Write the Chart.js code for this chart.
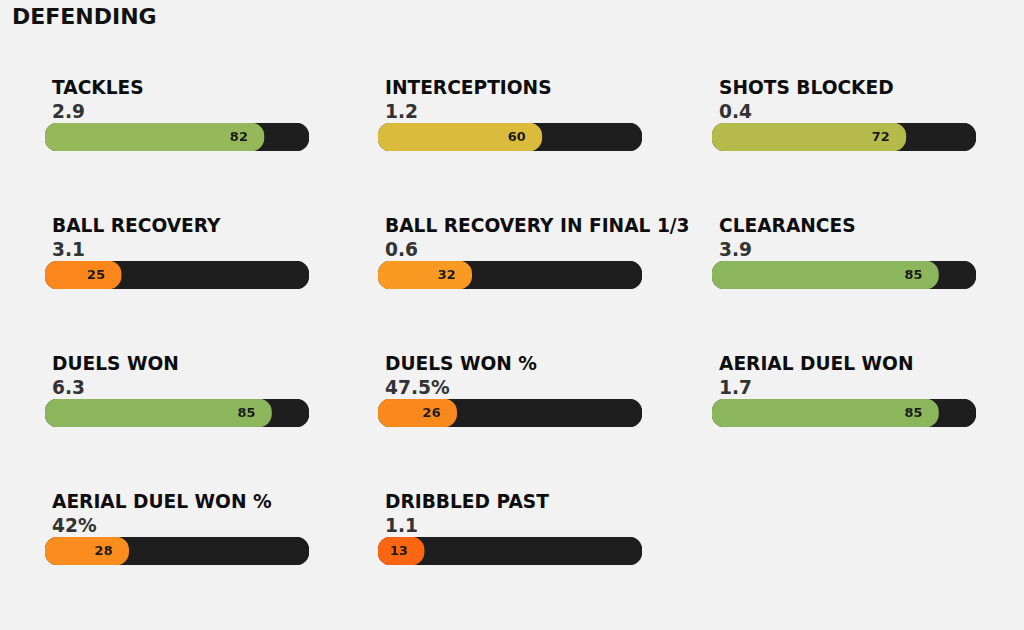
<!DOCTYPE html>
<html>
<head>
<meta charset="utf-8">
<script src="https://cdn.jsdelivr.net/npm/chart.js@4"></script>
<style>
  html, body { margin: 0; padding: 0; background: #f2f2f2; }
  body { width: 1024px; height: 630px; position: relative; overflow: hidden;
         font-family: "DejaVu Sans", sans-serif; font-weight: bold; }
  .heading { position: absolute; left: 12px; top: 6px; font-size: 22px; line-height: 22px; color: #111; }
  .name { position: absolute; font-size: 18.6px; line-height: 18px; color: #0d0d0d; white-space: nowrap; }
  .val { position: absolute; font-size: 18.6px; line-height: 18px; color: #333; white-space: nowrap; }
  canvas { position: absolute; }
</style>
</head>
<body>
<div class="heading">DEFENDING</div>
<script>
// metric data
const metrics = ['TACKLES', 'INTERCEPTIONS', 'SHOTS BLOCKED',
                 'BALL RECOVERY', 'BALL RECOVERY IN FINAL 1/3', 'CLEARANCES',
                 'DUELS WON', 'DUELS WON %', 'AERIAL DUEL WON',
                 'AERIAL DUEL WON %', 'DRIBBLED PAST'];
const perGame = ['2.9', '1.2', '0.4', '3.1', '0.6', '3.9', '6.3', '47.5%', '1.7', '42%', '1.1'];
const percentiles = [82, 60, 72, 25, 32, 85, 85, 26, 85, 28, 13];
const barColours = ['#95b85a', '#dbbb3b', '#b5ba4b', '#fb871c', '#fb9a22', '#8cb65c',
                    '#8cb65c', '#fb881c', '#8cb65c', '#fb8d1e', '#fc6612'];

const colX = [45, 378, 712];
const rowY = [123, 261, 399, 537];

// draws the percentile number just inside the end of the coloured bar
const pctLabel = {
    id: 'pctLabel',
    afterDatasetsDraw(chart) {
        const ctx = chart.ctx;
        const bar = chart.getDatasetMeta(0).data[0];
        ctx.save();
        ctx.font = 'bold 13px "DejaVu Sans"';
        ctx.fillStyle = '#1a1a1a';
        ctx.textAlign = 'center';
        ctx.textBaseline = 'middle';
        ctx.fillText(String(chart.data.datasets[0].data[0]), bar.x - 25, bar.y + 1);
        ctx.restore();
    }
};

metrics.forEach((name, i) => {
    const x = colX[i % 3];
    const y = rowY[Math.floor(i / 3)];

    const t = document.createElement('div');
    t.className = 'name';
    t.style.left = (x + 7) + 'px';
    t.style.top = (y - 44) + 'px';
    t.textContent = name;
    document.body.appendChild(t);

    const v = document.createElement('div');
    v.className = 'val';
    v.style.left = (x + 7) + 'px';
    v.style.top = (y - 20) + 'px';
    v.textContent = perGame[i];
    document.body.appendChild(v);

    const c = document.createElement('canvas');
    c.width = 264;
    c.height = 28;
    c.style.left = x + 'px';
    c.style.top = y + 'px';
    c.style.width = '264px';
    c.style.height = '28px';
    document.body.appendChild(c);

    new Chart(c.getContext('2d'), {
        type: 'bar',
        data: {
            labels: [name],
            datasets: [{
                data: [percentiles[i]],
                backgroundColor: barColours[i],
                borderRadius: 13,
                borderSkipped: false,
                base: -5.4,
                order: 0
            }, {
                data: [100],
                backgroundColor: '#1e1e1e',
                borderRadius: 13,
                borderSkipped: false,
                base: -5.4,
                order: 1
            }]
        },
        options: {
            indexAxis: 'y',
            responsive: false,
            animation: false,
            layout: { padding: 0 },
            datasets: { bar: { grouped: false, barPercentage: 1, categoryPercentage: 1 } },
            plugins: { legend: { display: false }, tooltip: { enabled: false } },
            scales: {
                x: { display: false, min: -5.4, max: 100 },
                y: { display: false }
            }
        },
        plugins: [pctLabel]
    });
});
</script>
</body>
</html>
